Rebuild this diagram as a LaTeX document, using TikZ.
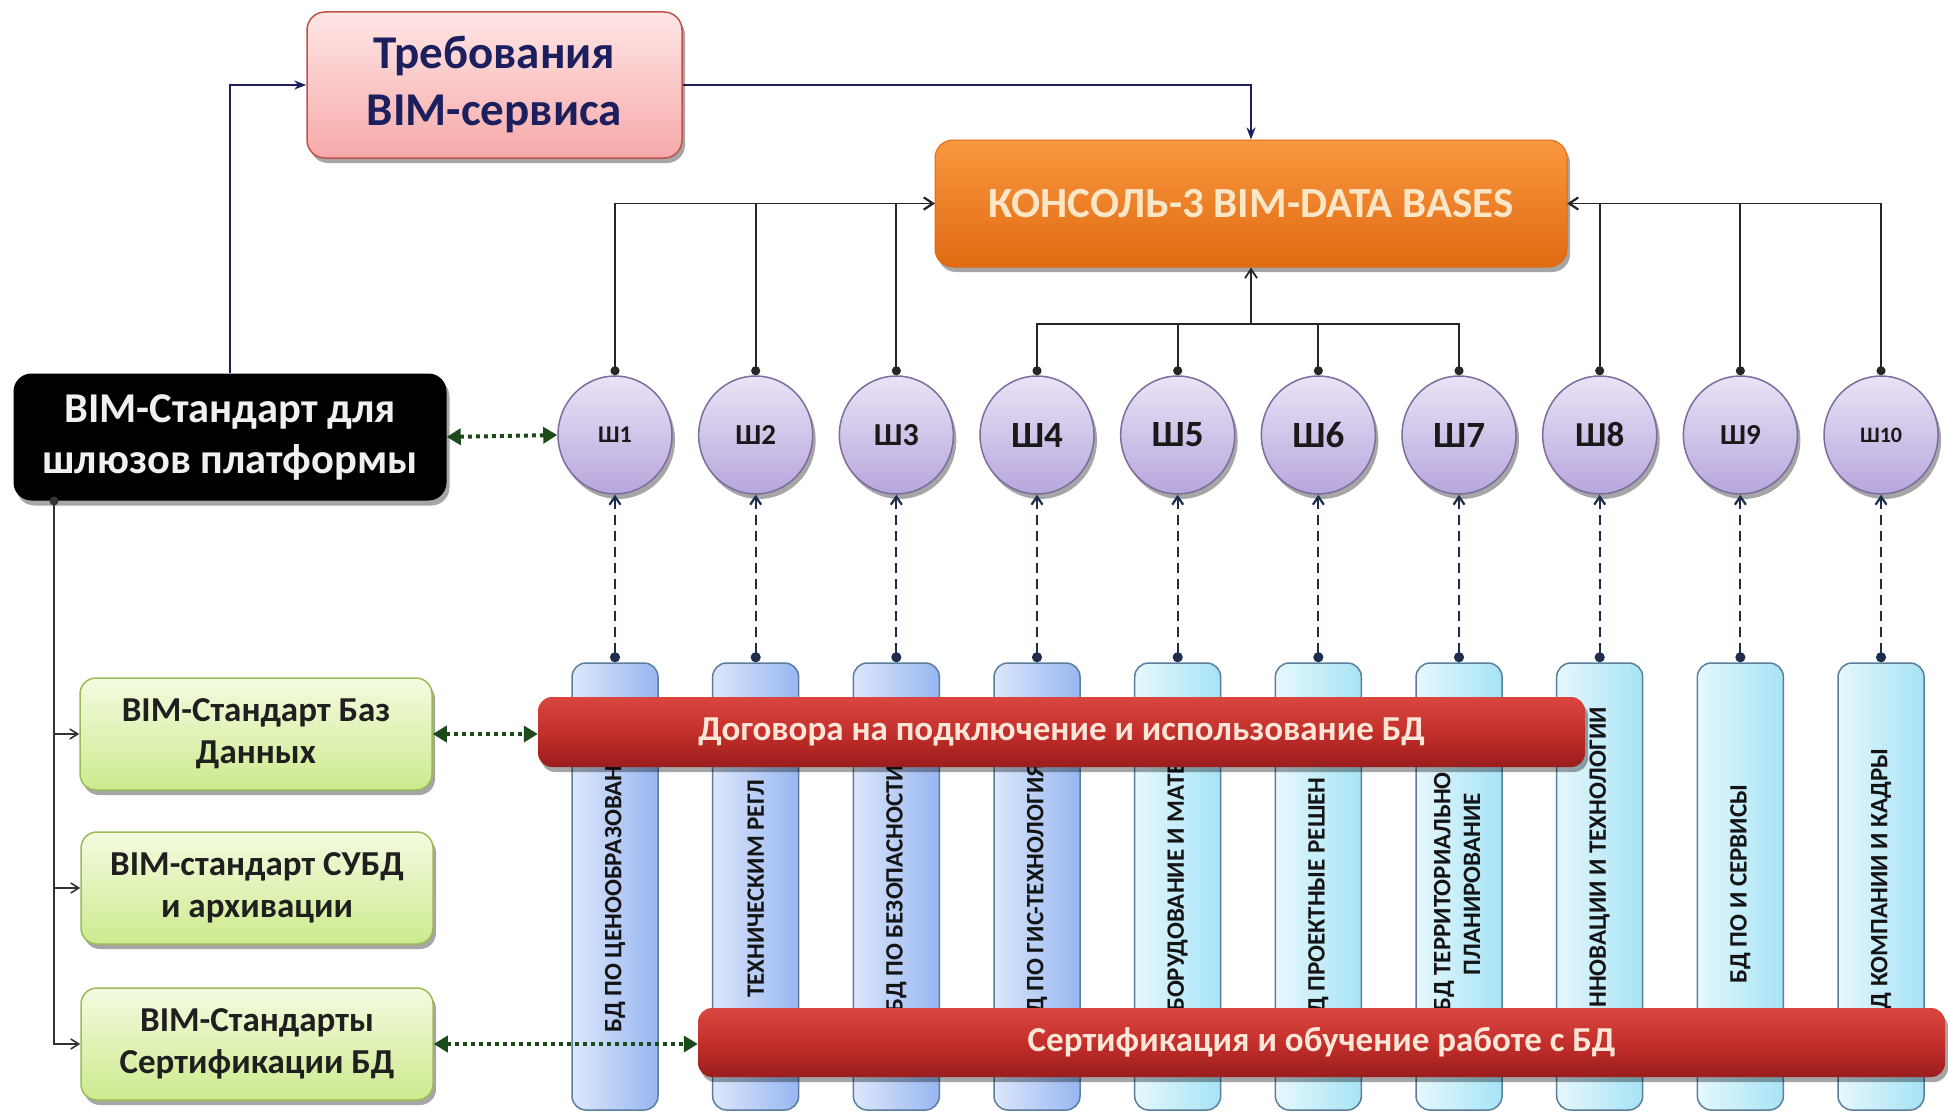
\documentclass[tikz,border=0pt]{standalone}
\usepackage{fontspec}
\setmainfont{Carlito}
\usetikzlibrary{arrows.meta,shadows,shapes.geometric}
\definecolor{navy}{HTML}{1C1F5E}
\definecolor{reqtop}{HTML}{FFE6E6}
\definecolor{reqbot}{HTML}{F6A9A9}
\definecolor{reqborder}{HTML}{C0504D}
\definecolor{constop}{HTML}{F9983F}
\definecolor{consbot}{HTML}{E06A12}
\definecolor{constext}{HTML}{FCE6C8}
\definecolor{grtop}{HTML}{F4FBE0}
\definecolor{grbot}{HTML}{CDEA8E}
\definecolor{grborder}{HTML}{9BBB59}
\definecolor{citop}{HTML}{EAE3F6}
\definecolor{cibot}{HTML}{B7A6DC}
\definecolor{ciborder}{HTML}{7D6C9E}
\definecolor{blueL}{HTML}{DCE7FB}
\definecolor{blueR}{HTML}{97B6F1}
\definecolor{cyanL}{HTML}{E6F8FD}
\definecolor{cyanR}{HTML}{A6E3F5}
\definecolor{colborder}{HTML}{5B7E9C}
\definecolor{redtop}{HTML}{D9463F}
\definecolor{redmid}{HTML}{C42F2B}
\definecolor{redbot}{HTML}{9A1D1D}
\definecolor{bartext}{HTML}{FDE6D8}
\definecolor{dgreen}{HTML}{1B4A1B}
\definecolor{dashnavy}{HTML}{1F2D4D}
\tikzset{
  shadowed/.style={drop shadow={shadow xshift=3pt,shadow yshift=-5pt,opacity=0.35,fill=black}},
  reqbox/.style={rounded corners=18pt, draw=reqborder, line width=1.5pt, top color=reqtop, bottom color=reqbot,
    minimum width=375pt, minimum height=146pt, align=center, text=navy, inner sep=0pt,
    font=\fontsize{47}{57}\selectfont\bfseries, shadowed},
  consbox/.style={rounded corners=18pt, draw=consbot, line width=1pt, top color=constop, bottom color=consbot,
    minimum width=632pt, minimum height=127pt, text=constext, inner sep=0pt,
    font=\fontsize{43}{50}\selectfont\bfseries, shadowed},
  blkbox/.style={rounded corners=18pt, fill=black, minimum width=433pt, minimum height=127pt, align=center,
    text=white!94!black, inner sep=0pt, font=\fontsize{42.5}{51}\selectfont\bfseries, shadowed},
  grbox/.style={rounded corners=16pt, draw=grborder, line width=1.5pt, top color=grtop, bottom color=grbot,
    minimum width=352pt, minimum height=112pt, align=center, text=black!88, inner sep=0pt,
    font=\fontsize{35}{42}\selectfont\bfseries, shadowed},
  gate/.style={ellipse, draw=ciborder, line width=1.5pt, top color=citop, bottom color=cibot,
    minimum width=114pt, minimum height=118pt, inner sep=0pt, text=black!90, shadowed},
  colblue/.style={rounded corners=14pt, draw=colborder, line width=1.5pt, left color=blueL, right color=blueR,
    minimum width=86pt, minimum height=447pt, inner sep=0pt},
  colcyan/.style={rounded corners=14pt, draw=colborder, line width=1.5pt, left color=cyanL, right color=cyanR,
    minimum width=86pt, minimum height=447pt, inner sep=0pt},
  coltext/.style={rotate=90, inner sep=0pt, text=black!92, font=\fontsize{25}{29}\selectfont\bfseries},
  redbar/.style={rounded corners=14pt, top color=redtop, bottom color=redbot, middle color=redmid,
    text=bartext, inner sep=0pt, font=\fontsize{35}{40}\selectfont\bfseries, shadowed},
  navyline/.style={draw=navy, line width=2.5pt, -{Stealth[length=12pt,width=9pt]}},
  conn/.style={draw=black!85, line width=1.8pt, {Circle[length=9pt]}-{Straight Barb[length=9pt,width=12pt]}},
  connplain/.style={draw=black!85, line width=1.8pt, {Circle[length=9pt]}-},
  dashconn/.style={draw=dashnavy, line width=2.2pt, dash pattern=on 10pt off 6pt,
    {Circle[length=10pt]}-{Straight Barb[length=8pt,width=11pt]}},
  dotconn/.style={draw=dgreen, line width=4pt, dash pattern=on 4pt off 4pt,
    {Triangle[length=14pt,width=16pt]}-{Triangle[length=14pt,width=16pt]}},
  treeline/.style={draw=black!80, line width=1.6pt},
}
\begin{document}
\begin{tikzpicture}[x=1pt,y=-1pt]
\useasboundingbox[fill=white] (0,0) rectangle (1948,1116);

% top boxes
\node[reqbox] (req) at (494.5,85) {Требования\\BIM-сервиса};
\node[consbox] (cons) at (1251,203.5) {КОНСОЛЬ-3 BIM-DATA BASES};
\node[blkbox] (blk) at (230,437) {BIM-Стандарт для\\шлюзов платформы};

% green boxes
\node[grbox] (g1) at (256,734) {BIM-Стандарт Баз\\Данных};
\node[grbox] (g2) at (257,888) {BIM-стандарт СУБД\\и архивации};
\node[grbox] (g3) at (257,1044) {BIM-Стандарты\\Сертификации БД};

% columns
\foreach \i/\s in {1/colblue,2/colblue,3/colblue,4/colblue,5/colcyan,6/colcyan,7/colcyan,8/colcyan,9/colcyan,10/colcyan}{
  \node[\s] (c\i) at ({615+140.67*(\i-1)},886.5) {};
}
% column texts
\node[coltext, anchor=west] (t1) at (c1.center |- 0,1033) {БД ПО ЦЕНООБРАЗОВАН};
\node[coltext, anchor=west] (t2) at (c2.center |- 0,998) {ТЕХНИЧЕСКИМ РЕГЛ};
\node[coltext, anchor=west] (t3) at (c3.center |- 0,1013) {БД ПО БЕЗОПАСНОСТИ};
\node[coltext, anchor=west] (t4) at (c4.center |- 0,1014) {Д ПО ГИС-ТЕХНОЛОГИЯ};
\node[coltext, anchor=west] (t5) at (c5.center |- 0,1012) {БОРУДОВАНИЕ И МАТЕ};
\node[coltext, anchor=west] (t6) at (c6.center |- 0,1014) {Д ПРОЕКТНЫЕ РЕШЕН};
\node[coltext, anchor=west] (t7a) at (1444,1012) {БД ТЕРРИТОРИАЛЬНО};
\node[coltext] (t7b) at (1472,884) {ПЛАНИРОВАНИЕ};
\node[coltext, anchor=east] (t8) at (c8.center |- 0,707) {ННОВАЦИИ И ТЕХНОЛОГИИ};
\node[coltext] (t9) at (c9.center |- 0,884) {БД ПО И СЕРВИСЫ};
\node[coltext, anchor=east] (t10) at (c10.center |- 0,748) {Д КОМПАНИИ И КАДРЫ};

% red bars
\node[redbar, minimum width=1047pt, minimum height=70pt] (bar1) at (1061.5,732) {Договора на подключение и использование БД};
\node[redbar, minimum width=1247pt, minimum height=69pt] (bar2) at (1321.5,1042.5) {Сертификация и обучение работе с БД};

% gates
\foreach \i/\f in {1/24,2/29,3/32,4/37,5/37,6/37,7/37,8/35,9/29,10/22}{
  \node[gate, font=\fontsize{\f}{\f}\selectfont\bfseries] (s\i) at ({615+140.67*(\i-1)},435) {Ш\i};
}

% dashed connectors columns -> gates
\foreach \i in {1,...,10}{
  \draw[dashconn] (c\i.north) -- (s\i.south);
}

% gates -> console
\foreach \i in {1,2,3}{ \draw[conn] (s\i.north) |- (cons.west); }
\foreach \i in {8,9,10}{ \draw[conn] (s\i.north) |- (cons.east); }
\coordinate (hub) at (1251,324);
\foreach \i in {4,5,6,7}{ \draw[connplain] (s\i.north) |- (hub); }
\draw[draw=black!85, line width=1.8pt, -{Straight Barb[length=9pt,width=12pt]}] (hub) -- (cons.south);

% navy links
\draw[navyline] (blk.north) |- (req.west);
\draw[navyline] (req.east) -| (cons.north);

% tree from black box
\coordinate (tb) at (54,501);
\fill[black!80] (tb) circle (4.5pt);
\draw[treeline, -{Straight Barb[length=8pt,width=10pt]}] (tb) |- (g1.west);
\draw[treeline, -{Straight Barb[length=8pt,width=10pt]}] (tb) |- (g2.west);
\draw[treeline, -{Straight Barb[length=8pt,width=10pt]}] (tb) |- (g3.west);

% dotted green double arrows
\draw[dotconn] (blk.east) -- (s1.west);
\draw[dotconn] (g1.east) -- (g1.east -| bar1.west);
\draw[dotconn] (g3.east) -- (g3.east -| bar2.west);
\end{tikzpicture}
\end{document}
